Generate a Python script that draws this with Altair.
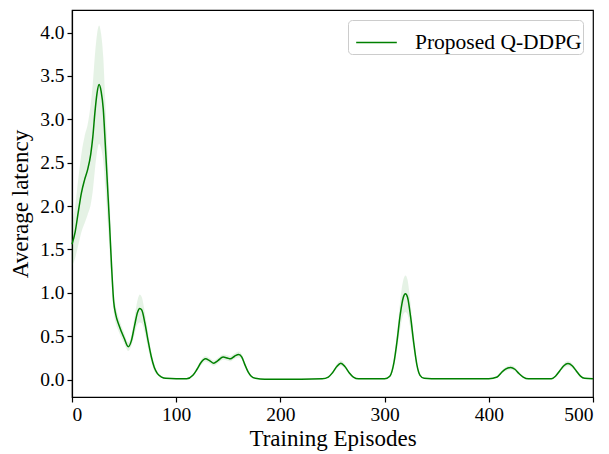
import altair as alt
import pandas as pd

episodes = [0, 3, 6, 9, 12, 15, 18, 20, 22, 24, 26, 28, 30, 32, 34, 36, 38, 40, 42, 45,
            50, 54, 57, 60, 63, 65, 67, 70, 73, 76, 79, 82, 86, 90, 100, 110,
            116, 120, 124, 128, 132, 136, 140, 145, 149, 152, 156, 160, 163, 166, 169, 172, 176, 185, 200, 220,
            240, 246, 250, 254, 258, 262, 266, 270, 275, 300, 305, 309, 312, 315, 318, 320, 322, 325, 328, 331, 334, 338, 345,
            400, 408, 412, 416, 421, 425, 429, 433, 438, 460, 464, 468, 472, 476, 480, 484, 488, 492, 500]

latency = [1.56, 1.70, 1.93, 2.15, 2.30, 2.42, 2.60, 2.80, 3.08, 3.30, 3.40, 3.32, 3.12, 2.70, 2.25, 1.80, 1.30, 0.90, 0.75, 0.63,
           0.48, 0.38, 0.45, 0.62, 0.78, 0.82, 0.80, 0.65, 0.45, 0.27, 0.14, 0.07, 0.03, 0.015, 0.01, 0.01,
           0.05, 0.12, 0.20, 0.24, 0.22, 0.19, 0.22, 0.26, 0.25, 0.24, 0.27, 0.29, 0.26, 0.17, 0.09, 0.04, 0.015, 0.005, 0.005, 0.005,
           0.01, 0.03, 0.08, 0.15, 0.19, 0.15, 0.08, 0.03, 0.01, 0.01, 0.04, 0.20, 0.45, 0.75, 0.95, 0.99, 0.95, 0.72, 0.42, 0.17, 0.05, 0.015, 0.01,
           0.01, 0.03, 0.08, 0.12, 0.14, 0.12, 0.07, 0.03, 0.01, 0.01, 0.04, 0.10, 0.16, 0.185, 0.16, 0.10, 0.04, 0.015, 0.01]

spread = [0.25, 0.30, 0.38, 0.45, 0.50, 0.52, 0.58, 0.62, 0.66, 0.68, 0.68, 0.66, 0.60, 0.50, 0.40, 0.30, 0.20, 0.12, 0.10, 0.08,
          0.06, 0.05, 0.06, 0.10, 0.14, 0.16, 0.15, 0.12, 0.09, 0.06, 0.04, 0.02, 0.01, 0.005, 0.005, 0.005,
          0.01, 0.02, 0.03, 0.03, 0.03, 0.03, 0.03, 0.03, 0.03, 0.03, 0.03, 0.035, 0.03, 0.02, 0.012, 0.008, 0.005, 0.004, 0.004, 0.004,
          0.004, 0.008, 0.015, 0.025, 0.03, 0.025, 0.015, 0.008, 0.004, 0.004, 0.01, 0.05, 0.10, 0.16, 0.20, 0.21, 0.20, 0.15, 0.09, 0.04, 0.012, 0.005, 0.004,
          0.004, 0.008, 0.015, 0.022, 0.025, 0.022, 0.014, 0.008, 0.004, 0.004, 0.01, 0.018, 0.026, 0.03, 0.026, 0.018, 0.01, 0.005, 0.004]

series_name = "Proposed Q-DDPG"

df = pd.DataFrame({"ep": episodes, "lat": latency, "sp": spread})
df["lo"] = df["lat"] - df["sp"]
df["hi"] = df["lat"] + df["sp"]
df["series"] = series_name

FONT = "Liberation Serif"

x_scale = alt.Scale(domain=[0, 500], nice=False, zero=False)
y_scale = alt.Scale(domain=[-0.2, 4.26], nice=False, zero=False)

x_enc = alt.X("ep:Q", scale=x_scale,
              axis=alt.Axis(title="Training Episodes", values=[0, 100, 200, 300, 400, 500],
                            titlePadding=4))

band = alt.Chart(df).mark_area(color="#008000", opacity=0.1, interpolate="monotone").encode(
    x=x_enc,
    y=alt.Y("lo:Q", scale=y_scale),
    y2="hi:Q",
)

line = alt.Chart(df).mark_line(strokeWidth=1.5, interpolate="monotone").encode(
    x=alt.X("ep:Q", scale=x_scale),
    y=alt.Y("lat:Q", scale=y_scale,
            axis=alt.Axis(title="Average latency", values=[0, 0.5, 1, 1.5, 2, 2.5, 3, 3.5, 4],
                          format=".1f", titlePadding=7)),
    color=alt.Color("series:N", scale=alt.Scale(range=["#008000"]),
                    legend=alt.Legend(title=None, orient="top-right", offset=10,
                                      symbolType="stroke", symbolSize=1650, symbolStrokeWidth=1.5,
                                      symbolOffset=6,
                                      labelFont=FONT, labelFontSize=21.5, labelColor="black",
                                      labelLimit=400,
                                      labelOffset=17, padding=1, strokeColor="#cccccc",
                                      labelExpr="datum.label + '\u00a0'",
                                      fillColor="white", cornerRadius=4)),
)

chart = alt.layer(band, line).properties(
    width=521, height=387,
    padding={"left": 64, "top": 2, "right": 8, "bottom": 58},
    autosize=alt.AutoSizeParams(type="none"),
).configure(font=FONT).configure_view(stroke="black", strokeWidth=1.2).configure_axis(
    domainWidth=1.2, tickWidth=1.2, grid=False, tickSize=5, labelPadding=3,
    labelFontSize=19.5, titleFontSize=23, domainColor="black", tickColor="black",
    labelColor="black", titleColor="black", labelFont=FONT, titleFont=FONT,
    titleFontWeight="normal")

chart.save("out.html", embed_options={"renderer": "svg", "actions": False})
